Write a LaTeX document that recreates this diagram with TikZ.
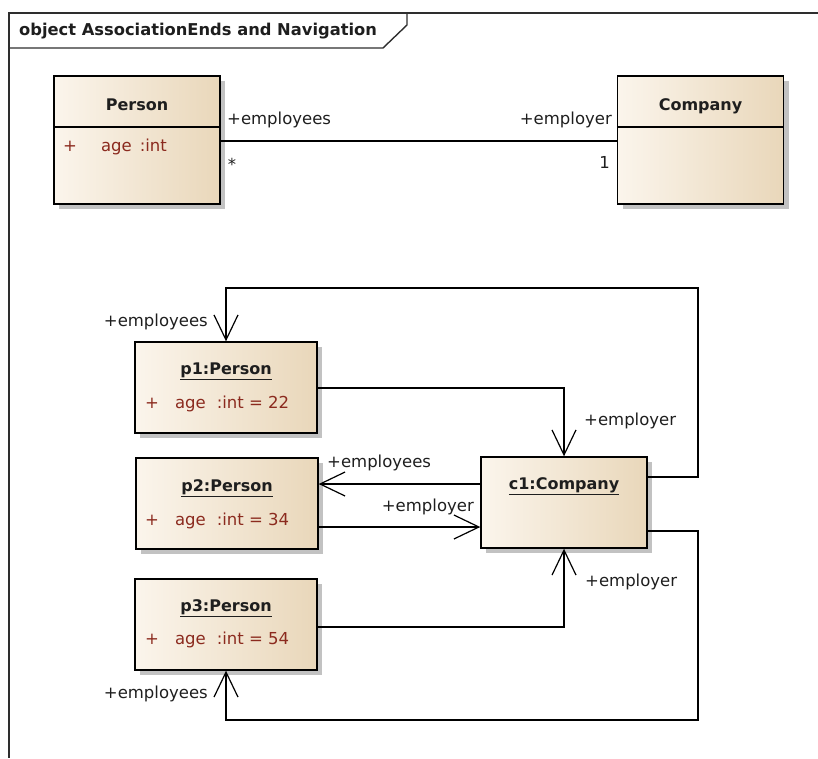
\documentclass[tikz,border=0pt]{standalone}
\usepackage{fontspec}
\setmainfont{DejaVu Sans}
\usetikzlibrary{arrows.meta,shadows}
\definecolor{framecol}{HTML}{2E2E2E}
\definecolor{attrcol}{HTML}{8B2A1E}
\definecolor{boxlight}{HTML}{FBF5EC}
\definecolor{boxdark}{HTML}{E9D7BA}
\definecolor{labelcol}{HTML}{1E1E1E}

\begin{document}
\begin{tikzpicture}[x=1pt,y=-1pt,
  umlbox/.style={draw=black, line width=1.4pt, left color=boxlight, right color=boxdark,
    drop shadow={shadow xshift=5pt, shadow yshift=-5pt, fill=black!40, opacity=0.6},
    inner sep=0pt},
  classbox/.style={umlbox, minimum width=166pt, minimum height=128pt},
  objbox/.style={umlbox, minimum width=182pt, minimum height=91pt},
  divider/.style={line width=1.4pt, draw=black},
  frameline/.style={draw=framecol, line width=1.4pt},
  txt/.style={font=\fontsize{16.5}{19}\selectfont, text=labelcol, inner sep=0pt},
  cname/.style={txt, font=\fontsize{16}{19}\selectfont\bfseries},
  attr/.style={txt, text=attrcol, anchor=west},
  assoc/.style={draw=black, line width=1.2pt},
  nav/.style={assoc, -{Straight Barb[length=25pt, width=24pt, line width=1.2pt]}}
]
\useasboundingbox (0,0) rectangle (818,758);

% diagram frame with its name tab
\draw[frameline] (818,13) -- (9,13) -- (9,758);
\draw[frameline] (9,48) -- (383,48) -- (407,25) -- (407,13);
\node[cname, anchor=west, font=\fontsize{16.3}{19}\selectfont\bfseries] (frametitle) at (19,31) {object AssociationEnds and Navigation};

% classes
\node[classbox] (person) at (137,140) {};
\draw[divider] (person.west |- 0,127) -- (person.east |- 0,127);
\node[cname] (person-name) at (137,105) {Person};
\node[attr] (person-attr) at (63,147) {+\hspace{24pt}age\hspace{8pt}:int};

\node[classbox] (company) at (700.5,140) {};
\draw[divider] (company.west |- 0,127) -- (company.east |- 0,127);
\node[cname] (company-name) at (700.5,106) {Company};

% association between the classes
\draw[assoc] (person.east |- 0,141) -- (company.west |- 0,141);
\node[txt, anchor=west] (ae-employees) at (227,120) {+employees};
\node[txt] (ae-many) at (232,164) {*};
\node[txt, anchor=east] (ae-employer) at (612,120) {+employer};
\node[txt, anchor=east] (ae-one) at (610,162) {1};

% objects
\node[objbox] (p1) at (226,387.5) {};
\node[cname] (p1-name) at (226,371) {\underline{p1:Person}};
\node[attr] (p1-attr) at (145,404) {+\hspace{16pt}age\hspace{11pt}:int = 22};

\node[objbox] (p2) at (227,503.5) {};
\node[cname] (p2-name) at (227,488) {\underline{p2:Person}};
\node[attr] (p2-attr) at (145,521) {+\hspace{16pt}age\hspace{11pt}:int = 34};

\node[objbox] (p3) at (226,624.5) {};
\node[cname] (p3-name) at (226,608) {\underline{p3:Person}};
\node[attr] (p3-attr) at (145,640) {+\hspace{16pt}age\hspace{11pt}:int = 54};

\node[umlbox, minimum width=166pt, minimum height=91pt] (c1) at (564,502.5) {};
\node[cname] (c1-name) at (564,486) {\underline{c1:Company}};

% navigable links
\draw[nav] (c1.east |- 0,477) -| (698,288) -| (p1.north);
\node[txt, anchor=east] (l1-employees) at (208,322) {+employees};

\draw[nav] (p1.east |- 0,388) -| (c1.north);
\node[txt, anchor=west] (l1-employer) at (584,421) {+employer};

\draw[nav] (c1.west |- 0,484) -- (p2.east |- 0,484);
\node[txt, anchor=west] (l2-employees) at (327,463) {+employees};

\draw[nav] (p2.east |- 0,527) -- (c1.west |- 0,527);
\node[txt, anchor=east] (l2-employer) at (474,507) {+employer};

\draw[nav] (p3.east |- 0,627) -| (c1.south);
\node[txt, anchor=west] (l3-employer) at (585,582) {+employer};

\draw[nav] (c1.east |- 0,531) -| (698,720) -| (p3.south);
\node[txt, anchor=east] (l3-employees) at (208,694) {+employees};
\end{tikzpicture}
\end{document}
